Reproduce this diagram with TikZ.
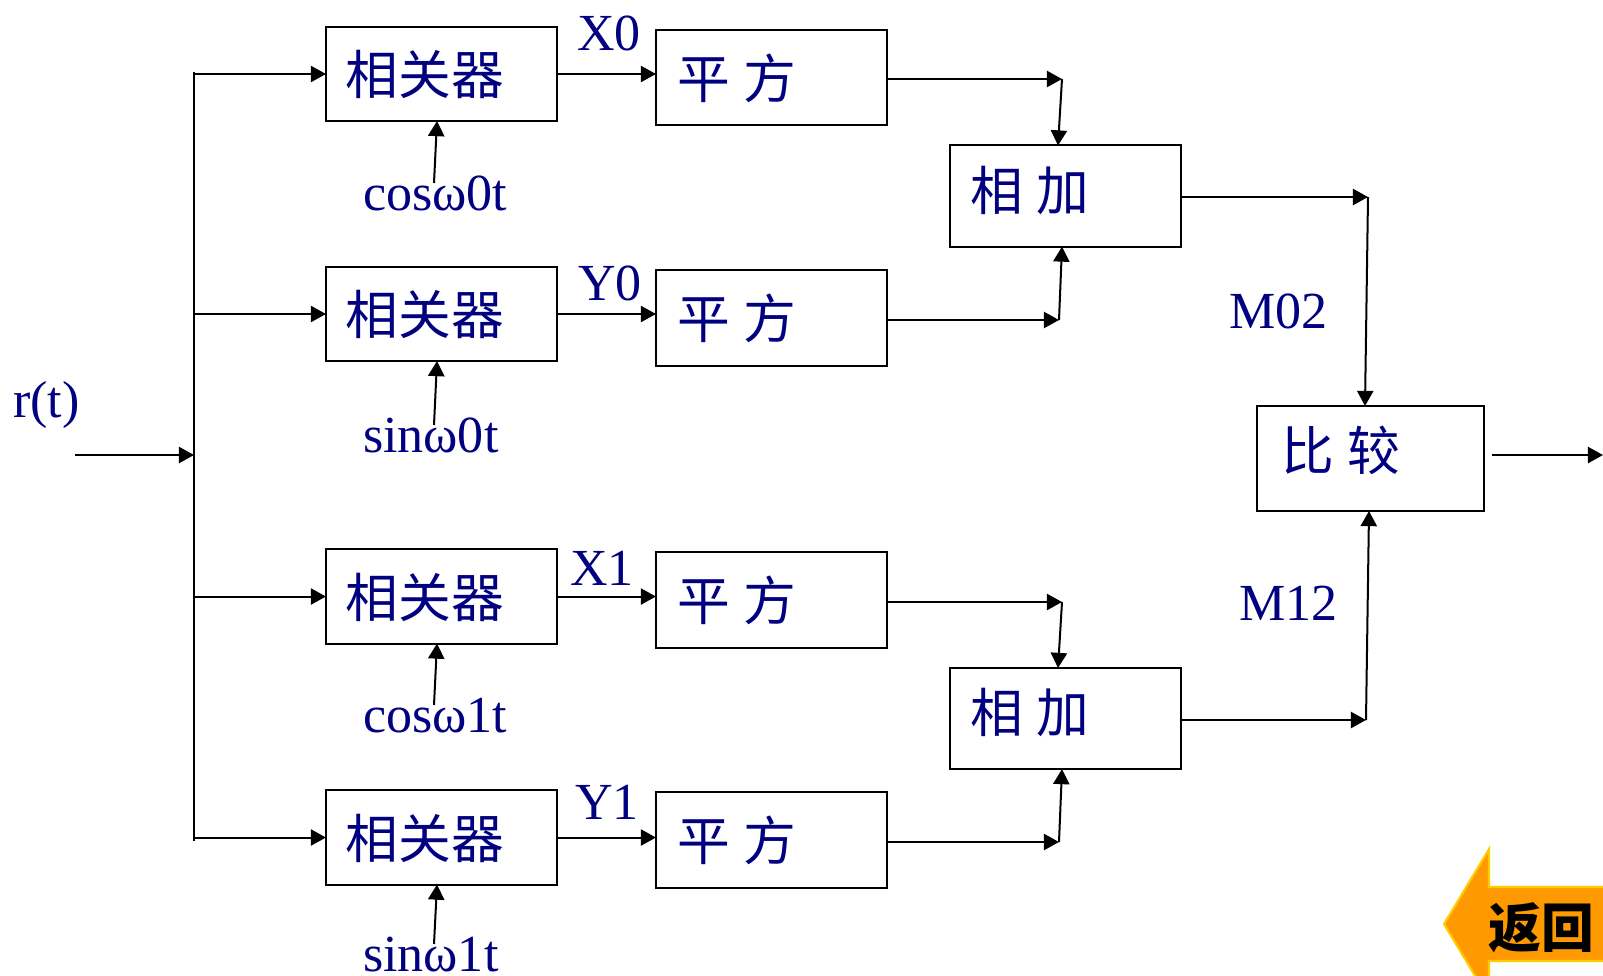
\documentclass[tikz,border=0pt]{standalone}
\usepackage{fontspec}
\setmainfont{Liberation Serif}
\newfontfamily\cjk{Noto Sans CJK SC}
\usetikzlibrary{arrows.meta,calc}
\definecolor{txtblue}{RGB}{0,0,128}
\definecolor{btnfill}{RGB}{255,153,0}
\definecolor{btnedge}{RGB}{255,204,0}
\newcommand{\gp}{\hspace{0.13cm}}
\begin{document}
\begin{tikzpicture}[x=0.01cm,y=-0.01cm,
  every node/.style={inner sep=0pt, outer sep=0pt},
  ln/.style={line width=0.57pt, draw=black},
  arr/.style={ln, -{Triangle[length=4.3pt,width=4.6pt]}},
  lbl/.style={font=\fontsize{14.8}{16}\selectfont, text=txtblue, anchor=base west},
  blk/.style={draw=black, line width=0.57pt, fill=white,
    font=\cjk\fontsize{15}{16}\selectfont, text=txtblue, align=left,
    anchor=center, text height=0.45cm, text depth=0.04cm},
  corr/.style={blk, minimum width=2.31cm, minimum height=0.94cm, inner xsep=0.2cm, text width=1.91cm},
  sqb/.style={blk, minimum width=2.31cm, minimum height=0.95cm, inner xsep=0.22cm, text width=1.87cm},
  addb/.style={blk, minimum width=2.31cm, minimum height=1.01cm, inner xsep=0.21cm, text width=1.89cm, text depth=0.17cm},
  cmpb/.style={blk, minimum width=2.27cm, minimum height=1.05cm, inner xsep=0.25cm, text width=1.77cm, text depth=0.21cm}]
\useasboundingbox (0,0) rectangle (1603,975);

% blocks
\node[corr] (c1) at (441.5,74) {相关器};
\node[corr] (c2) at (441.5,314) {相关器};
\node[corr] (c3) at (441.5,596.5) {相关器};
\node[corr] (c4) at (441.5,837.5) {相关器};
\node[sqb] (s1) at (771.5,77.5) {平\gp 方};
\node[sqb] (s2) at (771.5,318) {平\gp 方};
\node[sqb] (s3) at (771.5,600) {平\gp 方};
\node[sqb] (s4) at (771.5,840) {平\gp 方};
\node[addb] (a1) at (1065.5,196) {相\gp 加};
\node[addb] (a2) at (1065.5,718.5) {相\gp 加};
\node[cmpb] (cp) at (1370.5,458.5) {比\gp 较};

% labels
\node[lbl] (rt) at (13,417) {r(t)};
\node[lbl] (x0) at (577,50) {X0};
\node[lbl] (y0) at (578,300) {Y0};
\node[lbl] (x1) at (570,585) {X1};
\node[lbl] (y1) at (575,819) {Y1};
\node[lbl] (m02) at (1229,328) {M02};
\node[lbl] (m12) at (1239,620) {M12};
\node[lbl] (lo1) at (363,210) {cosω0t};
\node[lbl] (lo2) at (363,452) {sinω0t};
\node[lbl] (lo3) at (363,732) {cosω1t};
\node[lbl] (lo4) at (363,971) {sinω1t};

% input bus
\coordinate (bt) at (194,72);
\coordinate (bb) at (194,841);
\coordinate (rin) at (75,455);
\draw[ln] (bt) -- (bb);
\draw[arr] (rin) -- (rin -| bt);
\foreach \n in {1,2,3,4}{
  \draw[arr] (bt |- c\n.west) -- (c\n.west);
  \draw[arr] (c\n.east) -- (c\n.east -| s\n.west);
  \draw[arr] ($(lo\n.base west)+(71,-27)$) -- ($(c\n.south)+(-4.5,0)$);
}

% squares to adders
\coordinate (j1) at (1062,79);
\coordinate (j2) at (1059,320);
\coordinate (j3) at (1062,602);
\coordinate (j4) at (1059,842);
\draw[arr] (s1.east |- j1) -- (j1);
\draw[arr] (j1) -- ($(a1.north)+(-7.5,0)$);
\draw[arr] (s2.east |- j2) -- (j2);
\draw[arr] (j2) -- ($(a1.south)+(-3.5,0)$);
\draw[arr] (s3.east |- j3) -- (j3);
\draw[arr] (j3) -- ($(a2.north)+(-7.5,0)$);
\draw[arr] (s4.east |- j4) -- (j4);
\draw[arr] (j4) -- ($(a2.south)+(-3.5,0)$);

% adders to comparator
\coordinate (k1) at (1368,197);
\coordinate (k2) at (1366,720);
\draw[arr] (a1.east |- k1) -- (k1);
\draw[arr] (k1) -- ($(cp.north)+(-5.5,0)$);
\draw[arr] (a2.east |- k2) -- (k2);
\draw[arr] (k2) -- ($(cp.south)+(-1.5,0)$);
\coordinate (o0) at (1492,455);
\coordinate (out) at (1603,455);
\draw[arr] (o0) -- (out);

% return button
\begin{scope}
\clip (0,0) rectangle (1603,975);
\draw[draw=btnedge, fill=btnfill, line width=0.6pt]
  (1444,924) -- (1489,849) -- (1489,887) -- (1615,887) -- (1615,961)
  -- (1489,961) -- (1489,999) -- cycle;
\end{scope}
\node[font=\cjk\bfseries\fontsize{15}{16}\selectfont, text=black] (ret) at (1541,928) {返回};
\end{tikzpicture}
\end{document}
